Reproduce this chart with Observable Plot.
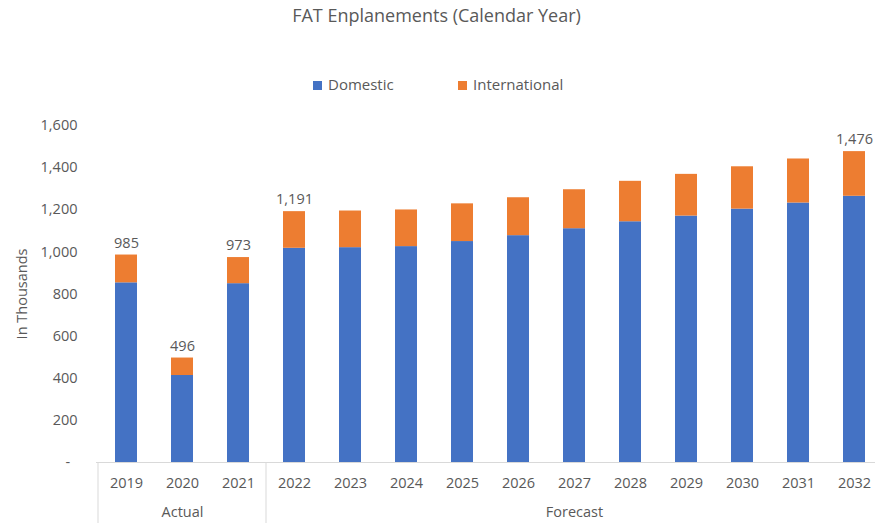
<!DOCTYPE html>
<html>
<head>
<meta charset="utf-8">
<script src="https://cdn.jsdelivr.net/npm/d3@7"></script>
<script src="https://cdn.jsdelivr.net/npm/@observablehq/plot@0.6"></script>
<style>
  html, body { margin: 0; padding: 0; background: #fff; }
  #wrap { position: relative; width: 875px; height: 523px; font-family: "Open Sans", sans-serif; color: #595959; }
  #title { position: absolute; left: 0; width: 873px; top: 3px; text-align: center; font-size: 18px; }
  .leg { position: absolute; top: 74px; font-size: 15px; white-space: nowrap; }
  .sw { display: inline-block; width: 9px; height: 9px; margin-right: 6px; vertical-align: 0px; }
  svg { position: absolute; left: 0; top: 0; }
</style>
</head>
<body>
<div id="wrap">
  <div id="title">FAT Enplanements (Calendar Year)</div>
  <div class="leg" style="left:313px"><span class="sw" style="background:#4472C4"></span>Domestic</div>
  <div class="leg" style="left:458px"><span class="sw" style="background:#ED7D31"></span>International</div>
</div>
<script>
const years = ["2019","2020","2021","2022","2023","2024","2025","2026","2027","2028","2029","2030","2031","2032"];
const domestic = [853, 413, 849, 1017, 1020, 1025, 1049, 1077, 1110, 1143, 1170, 1203, 1232, 1264];
const international = [132, 83, 124, 174, 174, 174, 179, 180, 185, 192, 198, 201, 209, 212];
const labeledYears = ["2019","2020","2021","2022","2032"];
const totalLabels = [985, 496, 973, 1191, 1476];
const groupNames = ["Actual", "Forecast"];
const groupCenters = ["2020", "2027"];
const groupFirstYears = ["2019", "2022"];
const series = ["Domestic", "International"];
const colors = ["#4472C4", "#ED7D31"];
const yTicks = [0, 200, 400, 600, 800, 1000, 1200, 1400, 1600];

const rows = [];
years.forEach((y, i) => {
  rows.push({year: y, series: "Domestic", value: domestic[i]});
  rows.push({year: y, series: "International", value: international[i]});
});
const totals = labeledYears.map((y, i) => ({year: y, total: totalLabels[i]}));
const groups = groupNames.map((g, i) => ({name: g, year: groupCenters[i]}));

const fmt = d3.format(",");
const chart = Plot.plot({
  width: 875,
  height: 523,
  marginTop: 125,
  marginBottom: 61,
  marginLeft: 96,
  marginRight: 0,
  style: {fontFamily: "Open Sans, sans-serif", fontSize: "14px", color: "#595959", background: "transparent", overflow: "visible"},
  x: {domain: years, range: [96, 884], paddingInner: 0.61, paddingOuter: 0.305, label: null},
  y: {domain: [0, 1600], label: null},
  color: {domain: series, range: colors},
  marks: [
    Plot.barY(rows, {x: "year", y: "value", fill: "series", order: series}),
    Plot.ruleY([0], {stroke: "#d9d9d9", strokeWidth: 1}),
    Plot.axisY({ticks: yTicks, tickSize: 0, tickPadding: 19, tickFormat: d => d === 0 ? "-\u2002" : fmt(d),
      label: "In Thousands", labelAnchor: "center", labelOffset: 80, labelArrow: "none", fontSize: 14.5}),
    Plot.axisX({tickSize: 0, tickPadding: 15, label: null, fontSize: 14.5}),
    Plot.text(totals, {x: "year", y: "total", text: d => fmt(d.total), dy: -12, fill: "#595959", fontSize: 14.5}),
    Plot.text(groups, {x: "year", text: "name", frameAnchor: "bottom", dy: 54, fill: "#595959", fontSize: 14.5})
  ]
});

// category group separators derived from the x scale
const xs = chart.scale("x");
const step = xs.step, bw = xs.bandwidth;
const svg = d3.select(chart);
const y0 = chart.scale("y").apply(0);
groupFirstYears.forEach(y => {
  const xpos = xs.apply(y) - (step - bw) / 2;
  svg.append("line")
    .attr("x1", xpos).attr("x2", xpos)
    .attr("y1", y0).attr("y2", 523)
    .attr("stroke", "#d9d9d9").attr("stroke-width", 1);
});

document.getElementById("wrap").appendChild(chart);
</script>
</body>
</html>
